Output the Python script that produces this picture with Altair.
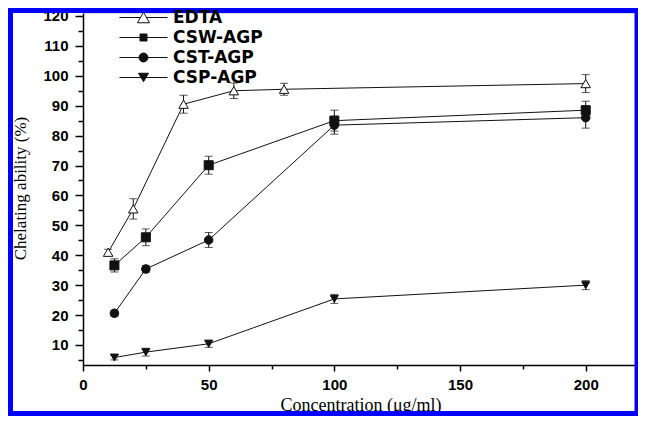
import altair as alt
import pandas as pd

# ---- data ----
series = ["EDTA", "CSW-AGP", "CST-AGP", "CSP-AGP"]

edta_x = [10, 20, 40, 60, 80, 200]
edta_y = [41.0, 55.5, 90.5, 95.0, 95.5, 97.4]
edta_err = [1.0, 3.4, 3.0, 2.6, 2.0, 3.0]

agp_x = [12.5, 25, 50, 100, 200]
csw_y = [36.6, 46.0, 70.1, 85.0, 88.5]
csw_err = [2.2, 2.8, 3.0, 3.5, 3.0]
cst_y = [20.6, 35.4, 45.1, 83.5, 86.0]
cst_err = [1.0, 1.2, 2.5, 3.0, 3.5]
csp_y = [5.8, 7.6, 10.4, 25.4, 30.0]
csp_err = [0.8, 1.3, 1.2, 1.5, 1.5]

x_major = [0, 50, 100, 150, 200]
x_minor = [25, 75, 125, 175]
y_major = list(range(10, 121, 10))
y_minor = list(range(5, 120, 10))

rows = []
for name, xs, ys, es in [
    ("EDTA", edta_x, edta_y, edta_err),
    ("CSW-AGP", agp_x, csw_y, csw_err),
    ("CST-AGP", agp_x, cst_y, cst_err),
    ("CSP-AGP", agp_x, csp_y, csp_err),
]:
    for xv, yv, ev in zip(xs, ys, es):
        rows.append({"series": name, "x": xv, "y": yv, "lo": yv - ev, "hi": yv + ev})
df = pd.DataFrame(rows)

INK = "#111111"
W, H = 555, 352

x_scale = alt.Scale(domain=[0, 220.8], nice=False, zero=False)
y_scale = alt.Scale(domain=[3.3, 121], nice=False, zero=False)

common_axis = dict(
    grid=False, domainColor="black", domainWidth=1.5, tickColor="black", tickWidth=1.5,
    labelFont="Liberation Sans", labelFontWeight="bold", labelFontSize=15, labelColor="black",
    titleFont="Liberation Serif", titleFontWeight="normal", titleColor="black",
)
x_axis = alt.Axis(values=x_major, tickSize=6, labelPadding=6, labelFlush=False,
                  title="Concentration (μg/ml)", titleFontSize=18, titleY=45,
                  titleBaseline="alphabetic", **common_axis)
y_axis = alt.Axis(values=y_major, tickSize=8, labelPadding=7,
                  title="Chelating ability (%)", titleFontSize=17, titleX=-71, titleY=175,
                  titleAngle=270, titleBaseline="top", titleAlign="center", **common_axis)

X = alt.X("x:Q", scale=x_scale, axis=x_axis)
Y = alt.Y("y:Q", scale=y_scale, axis=y_axis)

base = alt.Chart(df)

lines = base.mark_line(color=INK, strokeWidth=1).encode(x=X, y=Y, detail="series:N")
rules = base.mark_rule(color=INK, strokeWidth=1).encode(
    x=X, y=alt.Y("lo:Q", scale=y_scale, axis=y_axis), y2="hi:Q")
cap_lo = base.mark_tick(orient="horizontal", size=8, thickness=1, color=INK).encode(
    x=X, y=alt.Y("lo:Q", scale=y_scale, axis=y_axis))
cap_hi = base.mark_tick(orient="horizontal", size=8, thickness=1, color=INK).encode(
    x=X, y=alt.Y("hi:Q", scale=y_scale, axis=y_axis))

fills = ["white", INK, INK, INK]
points = base.mark_point(filled=True, stroke=INK, strokeWidth=1, opacity=1).encode(
    x=X, y=Y,
    shape=alt.Shape("series:N", scale=alt.Scale(domain=series,
                    range=["triangle-up", "square", "circle", "triangle-down"]), legend=None),
    fill=alt.Fill("series:N", scale=alt.Scale(domain=series, range=fills), legend=None),
    size=alt.Size("series:N", scale=alt.Scale(domain=series, range=[90, 64, 72, 70]), legend=None),
)

# legend symbols: line - marker - line
legend_paths = [
    "M-4.8,0L-0.6,0M0.6,0L4.8,0M0,-1.05L1.2,1.05L-1.2,1.05Z",
    "M-4.8,0L-0.7,0M0.7,0L4.8,0M-0.7,-0.7L0.7,-0.7L0.7,0.7L-0.7,0.7Z",
    "M-4.8,0L-0.9,0M0.9,0L4.8,0M0.9,0A0.9,0.9,0,1,1,-0.9,0A0.9,0.9,0,1,1,0.9,0Z",
    "M-4.8,0L-0.5,0M0.5,0L4.8,0M-1,-0.85L1,-0.85L0,0.85Z",
]
leg = dict(orient="none", legendX=52, legendY=-4, title=None, padding=0,
           symbolSize=100, symbolStrokeColor=INK, symbolStrokeWidth=1, symbolOpacity=1,
           labelFont="DejaVu Sans", labelFontWeight="bold", labelFontSize=17,
           labelColor="black", labelOffset=21, rowPadding=2)
legend_layer = base.mark_point(filled=True, opacity=0, strokeWidth=1).encode(
    x=X, y=Y,
    shape=alt.Shape("series:N", scale=alt.Scale(domain=series, range=legend_paths),
                    legend=alt.Legend(**leg)),
    fill=alt.Fill("series:N", scale=alt.Scale(domain=series, range=fills),
                  legend=alt.Legend(**leg)),
    stroke=alt.Stroke("series:N", scale=alt.Scale(domain=series, range=[INK] * 4),
                      legend=alt.Legend(**leg)),
)

inner = alt.layer(lines, rules, cap_lo, cap_hi, points, legend_layer).resolve_scale(
    shape="independent", fill="independent", size="independent", stroke="independent")

minor_common = dict(grid=False, domain=False, labels=False, title=None,
                    tickColor="black", tickWidth=1.5)
minor = base.mark_point(opacity=0).encode(
    x=alt.X("x:Q", scale=x_scale, axis=alt.Axis(values=x_minor, tickSize=4, orient="bottom", **minor_common)),
    y=alt.Y("y:Q", scale=y_scale, axis=alt.Axis(values=y_minor, tickSize=5, orient="left", **minor_common)),
)

frame = alt.Chart(pd.DataFrame({"a": [0]})).mark_rect(
    fillOpacity=0, stroke="#0000ff", strokeWidth=5).encode(
    x=alt.value(-72.5), x2=alt.value(W - 1), y=alt.value(-2.5), y2=alt.value(H + 48.5))

chart = alt.layer(inner, minor, frame).resolve_axis(
    x="independent", y="independent"
).properties(
    width=W, height=H,
    padding={"left": 75, "top": 5, "right": 0, "bottom": 51},
    autosize=alt.AutoSizeParams(type="none"),
).configure_view(stroke=None).configure(background="white")

chart.save("out.html", embed_options={"renderer": "svg", "actions": False})
